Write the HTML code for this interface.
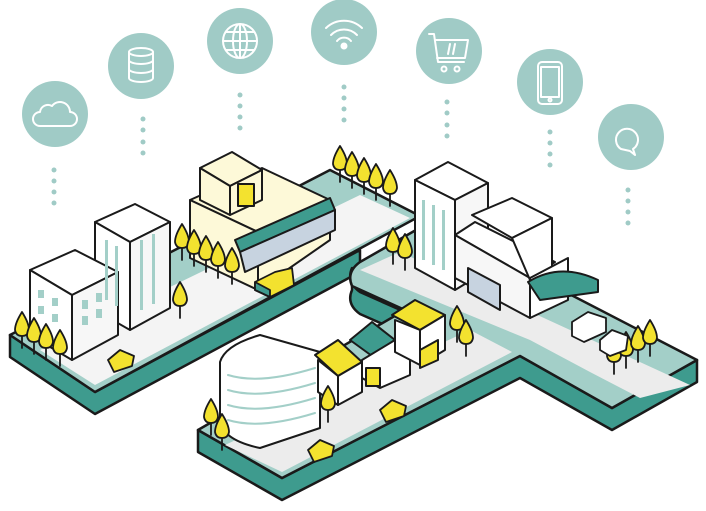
<!DOCTYPE html>
<html><head><style>html,body{margin:0;padding:0;background:#fff}svg{display:block}</style></head>
<body>
<svg width="706" height="511" viewBox="0 0 706 511" xmlns="http://www.w3.org/2000/svg" stroke-linejoin="round" stroke-linecap="round">
<defs>
<g id="t"><line x1="0" y1="6" x2="0" y2="22"/><path d="M0,-14 Q7,-3 7,4 Q6,10 0,10 Q-6,10 -7,4 Q-7,-3 0,-14Z"/></g>
</defs>
<g fill="#a0cbc6">
<circle cx="55" cy="114" r="33"/><circle cx="141" cy="66" r="33"/><circle cx="240" cy="41" r="33"/>
<circle cx="344" cy="32" r="33"/><circle cx="449" cy="51" r="33"/><circle cx="550" cy="82" r="33"/><circle cx="631" cy="137" r="33"/>
</g>
<g fill="#a0cbc6">
<circle cx="54" cy="170" r="2.5"/><circle cx="54" cy="181" r="2.5"/><circle cx="54" cy="192" r="2.5"/><circle cx="54" cy="203" r="2.5"/>
<circle cx="143" cy="119" r="2.5"/><circle cx="143" cy="130" r="2.5"/><circle cx="143" cy="142" r="2.5"/><circle cx="143" cy="153" r="2.5"/>
<circle cx="240" cy="95" r="2.5"/><circle cx="240" cy="106" r="2.5"/><circle cx="240" cy="117" r="2.5"/><circle cx="240" cy="128" r="2.5"/>
<circle cx="344" cy="87" r="2.5"/><circle cx="344" cy="98" r="2.5"/><circle cx="344" cy="109" r="2.5"/><circle cx="344" cy="120" r="2.5"/>
<circle cx="447" cy="102" r="2.5"/><circle cx="447" cy="113" r="2.5"/><circle cx="447" cy="125" r="2.5"/><circle cx="447" cy="136" r="2.5"/>
<circle cx="550" cy="132" r="2.5"/><circle cx="550" cy="143" r="2.5"/><circle cx="550" cy="154" r="2.5"/><circle cx="550" cy="165" r="2.5"/>
<circle cx="628" cy="190" r="2.5"/><circle cx="628" cy="201" r="2.5"/><circle cx="628" cy="212" r="2.5"/><circle cx="628" cy="223" r="2.5"/>
</g>
<g fill="none" stroke="#fff" stroke-width="2">
<path d="M40 126 h30 a7 7 0 0 0 0-14 a10 10 0 0 0-18-6 a8 8 0 0 0-12 6 a7 7 0 0 0 0 14z"/>
<ellipse cx="141" cy="52" rx="12" ry="4"/><path d="M129 52v26a12 4 0 0 0 24 0v-26M129 60a12 4 0 0 0 24 0M129 69a12 4 0 0 0 24 0"/>
<circle cx="240" cy="41" r="17"/><ellipse cx="240" cy="41" rx="7" ry="17"/><path d="M223 41h34M226 32h28M226 50h28M240 24v34"/>
<path d="M326 28a26 26 0 0 1 36 0M331 35a18 18 0 0 1 26 0M337 41a9 9 0 0 1 14 0"/><circle cx="344" cy="46" r="2.5" fill="#fff"/>
<path d="M429 34h5l4 28h26M436 40h32l-3 18h-28M450 44l-2 10M455 44l-2 10"/><circle cx="444" cy="69" r="2.5"/><circle cx="457" cy="69" r="2.5"/>
<rect x="538" y="62" width="24" height="42" rx="4"/><rect x="541" y="67" width="18" height="30"/><circle cx="550" cy="100" r="1.5"/>
<path d="M621 149a11 11 0 1 1 12 0l2 6-5-4z"/>
</g>
<g stroke="#1a1a1a" stroke-width="2.5">
<polygon points="10,335 95,392 360,250 360,272 95,414 10,357" fill="#3e9b8e"/>
<polygon points="10,335 95,392 420,216 330,170" fill="#a3cfc8"/>
<polygon points="198,430 282,478 520,356 612,408 697,360 697,382 612,430 520,378 282,500 198,452" fill="#3e9b8e"/>
<path d="M352,268 Q346,282 360,292 L405,312 L405,334 L360,314 Q346,304 352,290 Z" fill="#3e9b8e"/>
<path d="M198,430 L282,478 L520,356 L612,408 L697,360 L430,222 L360,262 Q346,272 352,286 L405,310 Z" fill="#a3cfc8"/>
</g>
<polygon points="40,350 95,385 410,218 360,195" fill="#f4f4f4"/>
<polygon points="225,445 282,472 512,352 470,330" fill="#ececec"/>
<polygon points="360,270 400,252 690,385 640,398 590,372 530,340" fill="#ececec"/>
<g stroke="#1a1a1a" stroke-width="2">
<polygon points="95,222 135,204 170,222 130,242" fill="#fff"/>
<polygon points="95,222 130,242 130,330 95,310" fill="#fff"/>
<polygon points="130,242 170,222 170,308 130,330" fill="#f7f7f7"/>
<polygon points="30,270 75,250 118,272 72,295" fill="#fff"/>
<polygon points="30,270 72,295 72,360 30,335" fill="#fff"/>
<polygon points="72,295 118,272 118,335 72,360" fill="#f7f7f7"/>
</g>
<g fill="#a3cfc8"><rect x="38" y="290" width="6" height="8"/><rect x="52" y="298" width="6" height="8"/><rect x="38" y="306" width="6" height="8"/><rect x="52" y="314" width="6" height="8"/><rect x="82" y="300" width="6" height="9"/><rect x="96" y="293" width="6" height="9"/><rect x="82" y="316" width="6" height="9"/><rect x="96" y="309" width="6" height="9"/><rect x="105" y="240" width="3" height="60"/><rect x="115" y="246" width="3" height="60"/><rect x="140" y="240" width="3" height="70"/><rect x="152" y="234" width="3" height="70"/></g>
<g stroke="#1a1a1a" stroke-width="2">
<polygon points="190,200 262,168 330,200 258,232" fill="#fdf9d8"/>
<polygon points="190,200 258,232 258,290 190,258" fill="#fdf9d8"/>
<polygon points="258,232 330,200 330,240 258,290" fill="#fdf9d8"/>
<polygon points="200,168 232,152 262,170 230,186" fill="#fdf9d8"/>
<polygon points="200,168 230,186 230,215 200,200" fill="#fdf9d8"/>
<polygon points="230,186 262,170 262,200 230,215" fill="#fdf9d8"/>
<rect x="238" y="184" width="16" height="22" fill="#f3e22f"/>
<polygon points="235,240 330,198 335,210 240,252" fill="#3e9b8e"/>
<polygon points="240,252 335,210 335,230 245,272" fill="#c7d3e0"/>
</g>
<g stroke="#1a1a1a" stroke-width="2">
<polygon points="415,180 448,162 488,183 455,200" fill="#fff"/>
<polygon points="415,180 455,200 455,290 415,268" fill="#fff"/>
<polygon points="455,200 488,183 488,270 455,290" fill="#f7f7f7"/>
<polygon points="455,235 475,222 555,262 530,278" fill="#fff"/>
<polygon points="455,235 530,278 530,318 455,278" fill="#f7f7f7"/>
<polygon points="472,215 512,198 552,218 512,238" fill="#fff"/>
<polygon points="512,238 552,218 552,270 530,280" fill="#fff"/>
<polygon points="530,278 568,258 568,300 530,318" fill="#fff"/>
<path d="M528,282 Q560,262 598,280 L598,292 L540,300 Z" fill="#3e9b8e"/>
<polygon points="468,268 500,285 500,310 468,292" fill="#c7d3e0"/>
</g>
<g fill="#a3cfc8"><rect x="422" y="200" width="3" height="60"/><rect x="432" y="205" width="3" height="60"/><rect x="442" y="210" width="3" height="60"/></g>
<g stroke="#1a1a1a" stroke-width="2">
<path d="M220,362 Q225,345 260,335 L320,352 L320,428 L260,448 Q222,440 220,420 Z" fill="#fff"/>
<polygon points="315,355 338,340 362,362 338,376" fill="#f3e22f"/>
<polygon points="318,360 338,376 338,405 318,392" fill="#fff"/>
<polygon points="338,376 362,362 362,392 338,405" fill="#fff"/>
<polygon points="350,340 372,322 395,340 372,356" fill="#3e9b8e"/>
<polygon points="362,360 395,340 410,350 410,375 380,388 362,378" fill="#fff"/>
<rect x="366" y="368" width="14" height="18" fill="#f3e22f"/>
<polygon points="392,315 415,300 445,315 420,330" fill="#f3e22f"/>
<polygon points="395,320 420,330 420,365 395,352" fill="#fff"/>
<polygon points="420,330 445,315 445,350 420,365" fill="#fff"/>
<polygon points="420,350 438,340 438,360 420,368" fill="#f3e22f"/>
</g>
<g fill="none" stroke="#a3cfc8" stroke-width="2"><path d="M228,375 Q260,385 315,368M228,390 Q260,400 315,383M228,405 Q260,415 315,398M228,420 Q260,430 315,413"/></g>
<g stroke="#1a1a1a" stroke-width="1.8" fill="#f3e22f">
<use href="#t" x="22" y="326"/><use href="#t" x="34" y="332"/><use href="#t" x="46" y="338"/><use href="#t" x="60" y="344"/>
<use href="#t" x="180" y="296"/>
<use href="#t" x="182" y="238"/><use href="#t" x="194" y="244"/><use href="#t" x="206" y="250"/><use href="#t" x="218" y="256"/><use href="#t" x="232" y="262"/>
<use href="#t" x="340" y="160"/><use href="#t" x="352" y="166"/><use href="#t" x="364" y="172"/><use href="#t" x="376" y="178"/><use href="#t" x="390" y="184"/>
<use href="#t" x="393" y="242"/><use href="#t" x="405" y="248"/>
<use href="#t" x="457" y="320"/><use href="#t" x="466" y="334"/>
<use href="#t" x="328" y="400"/><use href="#t" x="211" y="413"/><use href="#t" x="222" y="428"/>
<use href="#t" x="614" y="352"/><use href="#t" x="626" y="346"/><use href="#t" x="638" y="340"/><use href="#t" x="650" y="334"/>
</g>
<g stroke="#1a1a1a" stroke-width="1.8">
<polygon points="255,282 275,272 292,268 294,285 270,297 255,290" fill="#f3e22f"/>
<polygon points="255,282 270,290 270,297 255,290" fill="#3e9b8e"/>
<polygon points="108,360 120,350 134,356 132,366 114,372" fill="#f3e22f"/>
<polygon points="380,410 392,400 406,406 404,416 386,422" fill="#f3e22f"/>
<polygon points="308,450 320,440 334,446 332,456 314,462" fill="#f3e22f"/>
<polygon points="572,322 588,312 606,318 606,332 584,342 572,336" fill="#fff"/>
<polygon points="600,340 612,330 628,336 626,350 610,356 600,350" fill="#fff"/>
</g>
</svg>
</body></html>
